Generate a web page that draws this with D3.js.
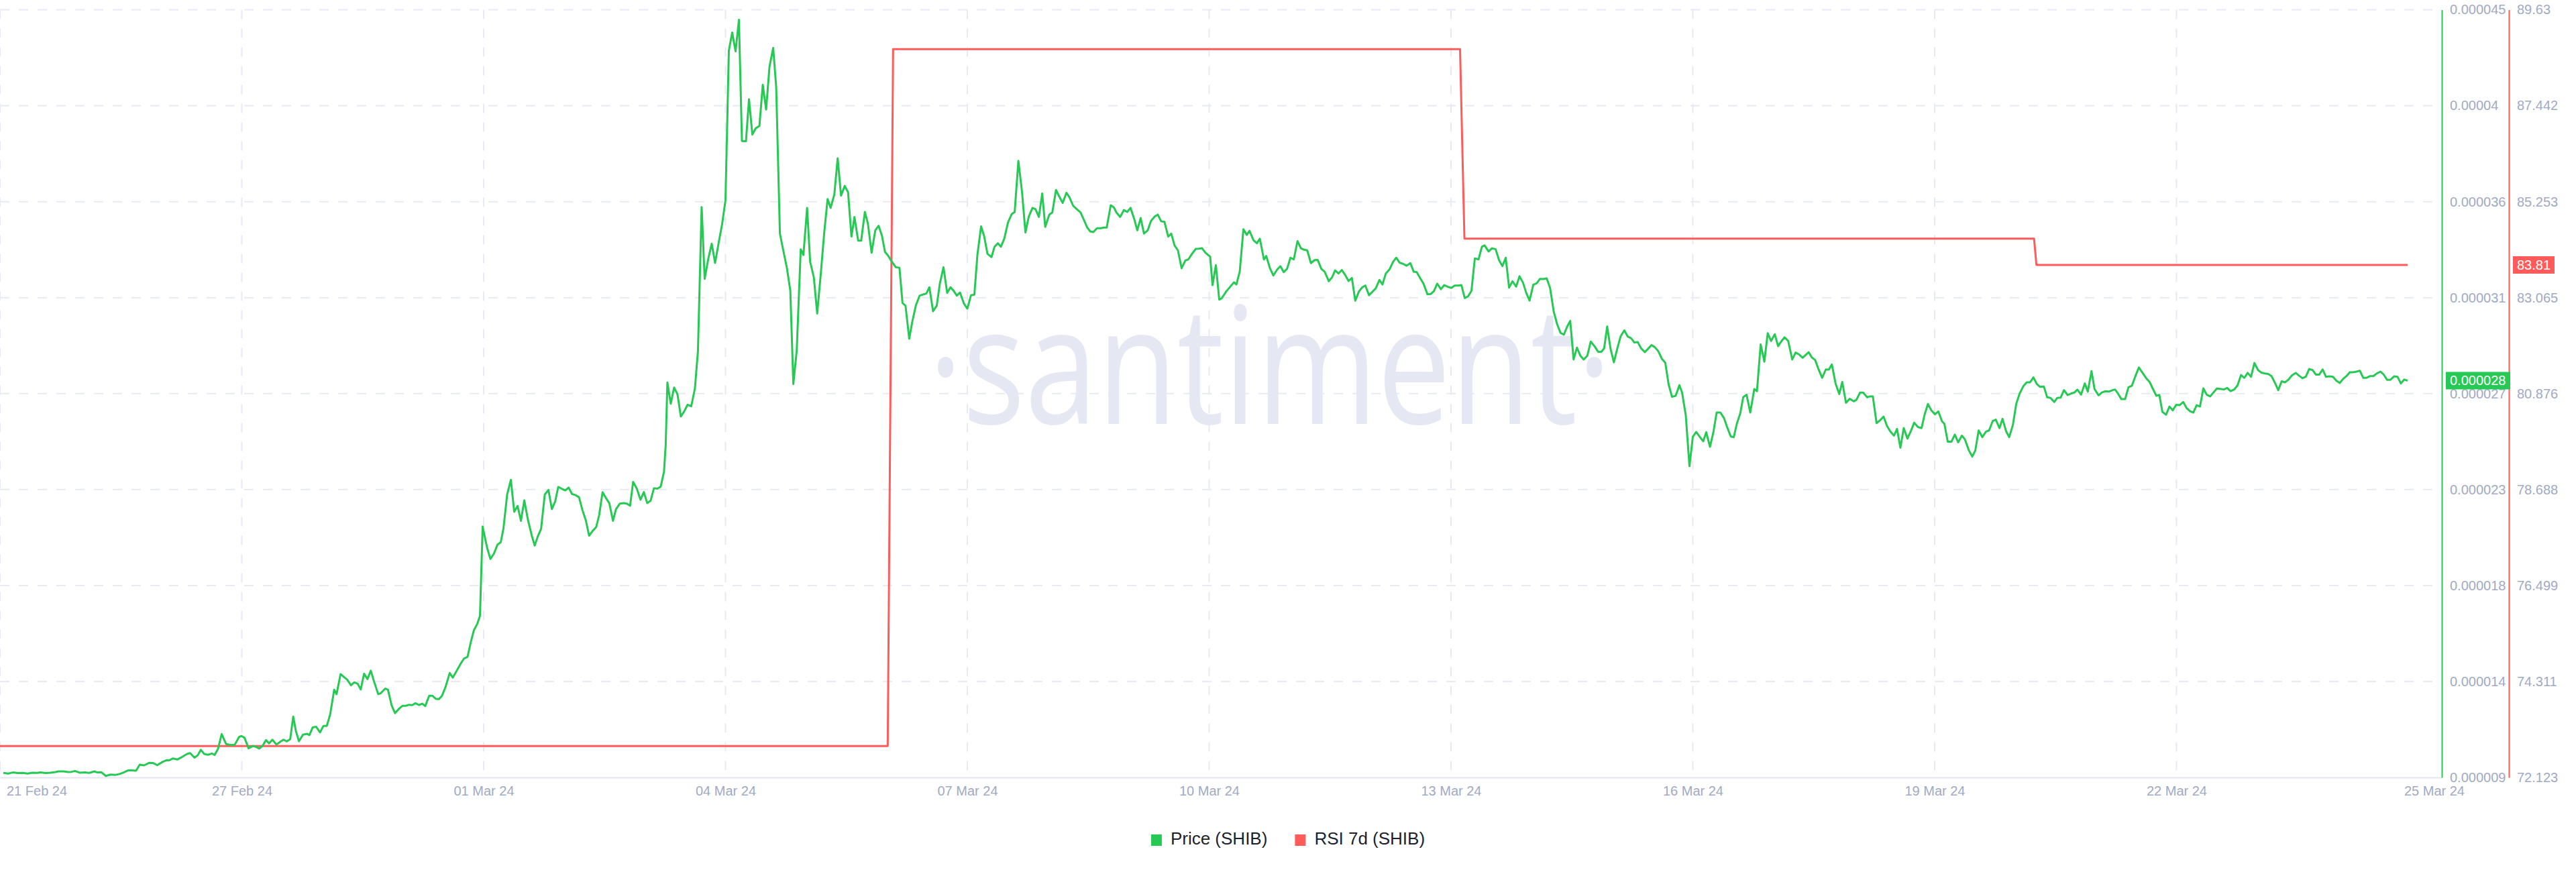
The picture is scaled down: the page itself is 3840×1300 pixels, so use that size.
<!DOCTYPE html>
<html>
<head>
<meta charset="utf-8">
<script src="https://cdn.jsdelivr.net/npm/d3@7"></script>
<style>
html,body{margin:0;padding:0;background:#ffffff;}
svg{display:block;}
</style>
</head>
<body>
<svg id="chart" width="3840" height="1300"></svg>
<script>
// ---------------- DATA ----------------
// time origin of the x axis (hours are counted from here, UTC)
const startDate = Date.UTC(2024, 1, 24, 0, 0);
const endHour = 727;

// Price (SHIB) : hours since startDate, price in millionths of USD (x 1e-6)
const priceHours = [
1.0,2.4,3.9,5.3,6.8,8.2,9.7,11.1,12.1,13.6,
15.0,16.5,17.4,18.9,20.3,21.3,22.3,23.7,25.2,26.6,
28.1,29.0,30.2,31.5,32.9,34.4,35.6,36.8,38.2,39.2,
40.5,41.6,42.9,44.5,45.5,46.8,48.4,49.6,50.3,51.5,
52.8,54.2,55.7,56.6,57.9,58.9,59.8,60.8,61.9,63.1,
63.9,64.9,66.0,67.3,68.7,69.9,71.2,71.9,72.8,74.0,
75.3,76.3,77.2,78.2,79.2,80.1,81.1,82.3,83.4,84.4,
85.4,86.4,87.3,88.1,89.0,90.2,91.5,92.1,93.1,94.1,
95.3,96.3,97.3,98.3,99.5,100.2,101.4,102.6,103.4,104.5,
105.5,106.5,107.4,108.4,109.4,110.4,111.3,112.6,113.4,114.7,
115.5,116.6,117.6,118.9,119.8,120.8,121.8,122.7,123.7,124.7,
125.7,126.6,127.8,128.7,129.7,130.7,131.6,132.6,133.9,134.8,
136.0,137.3,138.2,139.2,140.2,141.1,142.1,142.9,143.7,145.0,
146.0,147.1,148.1,149.1,
149.9,151.0,152.1,153.1,154.1,155.1,156.1,157.2,158.4,159.2,
160.1,161.1,162.2,163.3,164.3,165.3,166.2,167.2,168.3,169.3,
170.3,171.4,172.4,173.4,174.4,175.4,176.4,177.5,178.4,179.4,
180.4,181.4,182.5,183.4,184.5,185.7,186.7,187.6,188.5,189.6,
190.7,191.7,192.7,193.7,194.7,195.7,196.7,197.7,198.2,198.7,
199.7,200.7,201.7,202.7,203.7,204.7,205.8,206.9,207.8,208.9,
209.8,210.9,211.9,212.9,214.0,215.0,216.0,217.0,218.0,219.0,
220.0,220.9,222.1,223.0,224.0,225.0,226.1,227.1,228.1,229.1,
230.2,231.1,
232.2,233.2,234.3,235.3,236.2,237.2,238.4,239.2,240.3,241.2,
242.3,243.3,244.4,245.4,246.4,247.3,248.4,249.4,250.4,251.5,
252.5,253.5,254.4,255.5,256.4,257.5,258.4,259.5,260.6,261.6,
262.6,263.5,264.4,265.5,266.7,267.8,268.7,269.6,270.7,271.6,
272.7,273.8,274.7,275.8,276.7,277.8,278.9,279.8,280.9,282.0,
283.0,284.0,284.9,285.8,287.0,288.0,289.1,290.1,291.0,292.1,
293.0,294.0,295.2,296.1,297.1,298.0,299.0,300.1,301.2,302.1,
303.2,304.3,305.3,306.3,307.4,308.3,309.3,310.3,311.2,312.4,
313.3,314.4,315.4,316.4,317.5,318.4,319.5,320.6,321.7,322.6,
323.7,324.6,325.5,326.6,327.7,328.6,329.5,330.7,331.6,332.4,
333.5,334.6,335.6,336.6,337.7,338.6,339.6,340.6,341.7,342.7,
343.8,344.7,345.7,346.7,347.8,348.7,349.7,350.7,351.8,352.9,
353.8,354.9,356.0,356.9,357.9,358.9,
360.3,361.0,362.0,363.0,363.7,365.1,366.4,367.4,368.1,369.1,
370.2,371.2,372.0,373.2,374.2,375.1,376.3,377.0,378.1,379.1,
380.2,381.2,382.2,383.2,384.2,385.2,386.3,387.3,388.3,389.2,
390.3,391.4,392.3,393.4,394.4,395.6,396.6,397.5,398.5,399.5,
400.5,401.5,402.5,403.5,404.6,405.6,406.5,407.6,408.6,409.6,
410.7,411.6,412.6,413.7,414.7,415.7,416.7,417.7,418.8,419.9,
420.9,421.8,422.8,423.8,425.0,426.0,426.9,427.9,429.0,430.0,
431.1,432.1,433.1,434.2,435.1,436.1,437.1,438.1,439.1,440.2,
441.2,442.0,443.2,444.2,445.3,446.3,447.3,448.3,449.3,450.3,
451.4,452.4,453.4,454.4,455.4,456.5,457.5,458.5,459.5,460.5,
461.5,462.6,463.6,464.6,465.6,466.6,467.5,468.5,469.5,470.5,
471.5,472.6,473.6,474.8,475.8,476.8,477.6,478.5,479.5,480.5,
481.5,482.5,483.6,484.6,485.6,486.6,487.6,488.6,489.7,490.7,
491.7,492.7,493.7,494.8,495.8,496.8,497.8,498.9,
500.0,500.8,501.9,503.0,504.0,505.0,505.9,507.1,508.0,509.1,
510.1,511.1,512.2,513.3,514.2,515.3,516.2,517.1,518.1,519.0,
520.0,521.1,522.3,523.1,524.2,525.3,526.3,527.3,528.4,529.4,
530.3,531.3,532.4,533.6,534.6,535.6,536.7,537.6,538.5,539.4,
540.4,541.4,542.5,543.6,544.5,545.4,546.5,547.6,548.5,549.6,
550.7,551.9,552.7,553.8,554.7,555.9,556.7,557.6,558.7,559.6,
560.8,561.8,562.8,563.9,564.8,565.8,566.8,567.9,569.0,569.9,
571.0,572.1,573.0,574.0,575.0,576.1,577.1,578.2,578.9,579.9,
581.0,582.0,583.0,584.1,585.0,586.2,587.2,588.1,589.1,590.2,
591.3,592.2,593.3,594.2,595.3,596.2,597.3,598.2,599.3,600.3,
601.3,602.4,603.4,604.4,605.4,606.4,607.4,608.5,609.5,610.5,
611.6,612.5,613.5,614.5,615.6,616.6,617.6,618.5,619.6,620.7,
621.6,622.7,623.6,624.8,625.8,626.9,627.9,
629.0,629.7,630.5,631.6,632.7,633.7,634.7,635.7,636.8,637.9,
639.0,640.0,641.0,642.0,642.9,643.8,644.9,645.9,646.9,647.9,
648.9,650.0,651.0,652.0,653.0,654.0,655.0,656.0,657.0,658.0,
659.0,660.0,661.0,662.1,663.1,664.1,665.2,666.2,667.2,668.2,
669.2,670.2,671.2,672.3,673.3,674.3,675.3,676.3,677.3,678.3,
679.3,680.3,681.3,682.3,683.5,684.5,685.5,686.5,687.5,688.5,
689.5,690.5,691.5,692.5,693.5,694.6,695.6,696.6,697.6,698.6,
699.6,700.6,701.6,702.6,703.6,704.6,705.6,706.6,707.6,708.7,
709.7,710.7,711.7,712.8,713.8,714.8,715.8,716.8
];
const priceValues = [
9.41,9.38,9.43,9.40,9.41,9.38,9.42,9.41,9.43,9.40,
9.42,9.45,9.48,9.48,9.45,9.46,9.50,9.42,9.43,9.41,
9.48,9.43,9.44,9.27,9.33,9.32,9.36,9.43,9.53,9.53,
9.51,9.79,9.76,9.88,9.87,9.77,9.92,10.00,9.99,10.08,
10.03,10.15,10.29,10.33,10.12,10.23,10.48,10.29,10.25,10.31,
10.24,10.52,11.21,10.75,10.70,10.72,11.08,11.12,11.04,10.55,
10.66,10.61,10.54,10.67,10.93,10.78,10.95,10.72,10.85,10.95,
10.87,10.97,12.02,11.35,10.88,11.18,11.22,11.16,11.52,11.55,
11.29,11.59,11.59,12.12,13.27,13.06,13.99,13.83,13.73,13.47,
13.61,13.54,13.28,14.01,13.76,14.15,13.68,13.06,13.11,13.32,
13.27,12.54,12.18,12.40,12.52,12.52,12.57,12.55,12.64,12.56,
12.62,12.51,12.99,12.99,12.85,12.83,12.99,13.37,14.04,13.83,
14.15,14.51,14.72,14.79,15.49,16.03,16.32,16.69,20.83,19.87,
19.33,19.59,19.99,20.11,
20.75,22.32,23.00,21.52,21.79,21.10,22.05,21.13,20.37,19.95,
20.37,20.73,22.32,22.53,21.64,22.00,22.67,22.59,22.51,22.64,
22.34,22.29,22.19,21.60,21.13,20.41,20.62,20.81,21.37,22.43,
22.16,21.92,21.10,21.64,21.89,21.92,21.89,21.80,22.90,22.59,
22.08,22.43,21.92,22.03,22.61,22.59,22.68,23.38,24.62,27.51,
26.53,27.28,26.97,25.94,26.17,26.48,26.41,27.24,28.98,35.65,
32.32,33.27,33.95,33.06,34.02,34.86,35.97,42.90,43.74,42.87,
44.33,38.71,38.70,40.65,39.01,39.30,39.41,41.32,40.17,42.16,
43.03,41.20,
34.42,33.64,32.81,31.77,27.44,28.97,33.69,33.43,35.61,33.12,
32.39,30.71,32.60,34.47,36.02,35.61,36.23,37.91,36.18,36.63,
36.33,34.28,35.19,34.09,34.09,35.42,34.88,33.53,34.57,34.78,
34.31,33.56,33.40,33.12,32.86,32.83,31.20,31.07,29.54,30.32,
31.10,31.54,31.59,31.64,31.93,30.82,31.08,32.08,32.86,31.67,
31.93,31.75,31.54,31.69,31.17,30.94,31.56,31.59,33.43,34.75,
34.31,33.48,33.33,33.81,33.97,33.81,34.18,34.93,35.32,35.42,
37.79,36.33,34.47,35.21,35.61,35.55,35.19,36.28,34.73,35.30,
35.40,36.44,36.13,35.84,36.31,36.10,35.71,35.55,35.40,35.09,
34.70,34.52,34.49,34.67,34.67,34.70,34.70,35.73,35.64,35.40,
35.19,35.51,35.42,35.61,35.09,34.57,35.14,34.42,34.57,35.01,
35.21,35.30,34.99,34.96,34.28,34.42,33.87,33.64,32.81,33.17,
33.22,33.48,33.71,33.72,33.74,33.53,
33.35,32.03,32.96,31.36,31.41,31.74,31.98,32.16,32.06,32.65,
34.62,34.36,34.55,34.11,33.97,34.18,33.22,33.38,32.81,32.48,
32.74,32.91,32.63,32.79,33.30,33.22,34.07,33.74,33.67,33.64,
33.05,33.19,33.20,32.78,32.65,32.21,32.39,32.71,32.57,32.73,
32.50,32.22,32.36,31.31,31.74,31.93,32.01,31.56,31.72,31.88,
32.27,32.06,32.57,32.76,33.09,33.30,33.07,33.02,32.93,33.05,
32.65,32.63,32.36,32.10,31.60,31.62,31.75,32.10,31.84,32.03,
31.95,31.90,32.01,32.01,32.03,31.43,31.51,31.77,33.27,33.22,
33.81,33.87,33.59,33.74,33.69,33.19,32.91,33.30,31.91,32.21,
31.96,32.44,32.16,31.67,31.31,32.05,32.11,32.32,32.31,32.34,
31.90,30.79,30.22,29.82,29.73,30.11,30.37,28.58,29.13,28.76,
28.58,28.76,29.41,29.18,28.94,28.94,29.10,30.11,29.08,28.45,
29.08,29.65,29.93,29.65,29.57,29.37,29.39,29.10,28.92,29.08,
29.25,29.15,28.97,28.61,28.43,27.42,26.85,26.90,
27.39,27.05,26.00,23.63,25.00,25.22,25.03,24.79,25.21,24.53,
25.19,26.12,26.12,25.86,25.45,25.01,24.98,25.60,26.07,26.83,
26.95,26.12,27.21,27.11,29.28,28.48,29.80,29.44,29.75,29.20,
29.41,29.61,29.44,28.58,28.90,28.82,28.66,28.79,28.92,28.68,
28.56,28.14,27.73,28.12,28.11,28.35,27.47,26.98,27.54,26.57,
26.76,26.64,26.71,27.05,27.05,26.83,26.87,26.87,25.63,25.74,
25.93,25.50,25.24,25.05,25.36,24.49,25.40,24.91,25.29,25.65,
25.45,25.40,26.02,26.52,26.22,26.04,26.17,25.71,25.60,24.77,
24.77,25.10,24.74,25.05,24.88,24.36,24.08,24.36,25.29,24.98,
25.24,25.29,25.73,25.79,25.40,25.83,25.24,24.98,25.55,26.53,
27.00,27.34,27.52,27.52,27.75,27.45,27.31,27.33,26.83,26.80,
26.61,26.80,26.81,27.16,26.93,27.00,27.05,27.18,26.95,27.47,
27.09,28.04,27.21,26.92,27.05,27.11,27.09,
27.16,27.19,27.02,26.74,26.74,27.29,27.36,27.78,28.21,27.96,
27.71,27.54,27.21,26.90,26.94,26.15,26.02,26.40,26.22,26.48,
26.46,26.61,26.33,26.19,26.12,26.46,26.40,27.24,26.95,26.87,
27.05,27.23,27.22,27.19,27.26,27.11,27.19,27.39,27.86,27.73,
27.96,27.78,28.42,28.09,27.97,27.93,27.91,27.81,27.50,27.16,
27.57,27.52,27.64,27.83,27.96,27.83,27.71,27.78,28.14,28.09,
27.88,27.88,28.12,27.78,27.80,27.78,27.60,27.49,27.68,27.81,
27.99,27.99,28.02,28.06,27.73,27.73,27.81,27.81,27.93,28.02,
27.88,27.64,27.64,27.80,27.78,27.47,27.65,27.60
];

// RSI 7d (SHIB): hours since startDate and value
const rsiHours  = [0, 264.3, 265.9, 434.7, 436.0, 605.6, 606.3, 716.8];
const rsiValues = [72.84, 72.84, 88.73, 88.73, 84.41, 84.41, 83.81, 83.81];

// Axes
const priceDomain = [0.0000092, 0.0000448];
const priceTickLabels = ["0.000009","0.000014","0.000018","0.000023","0.000027","0.000031","0.000036","0.00004","0.000045"];
const rsiDomain = [72.123, 89.63];
const rsiTickLabels = ["72.123","74.311","76.499","78.688","80.876","83.065","85.253","87.442","89.63"];
const xTickDates = ["2024-02-24","2024-02-27","2024-03-01","2024-03-04","2024-03-07","2024-03-10","2024-03-13","2024-03-16","2024-03-19","2024-03-22"];
const xTickLabels = ["","27 Feb 24","01 Mar 24","04 Mar 24","07 Mar 24","10 Mar 24","13 Mar 24","16 Mar 24","19 Mar 24","22 Mar 24"];
const xEdgeLabels = ["21 Feb 24","25 Mar 24"];

const seriesNames = ["Price (SHIB)", "RSI 7d (SHIB)"];
const seriesColors = ["#26c953", "#ff5b5b"];
const watermarkText = "\u00b7santiment\u00b7";

// ---------------- LAYOUT ----------------
const W = 3840, H = 1300;
const plotL = 0, plotR = 3640, plotT = 14.5, plotB = 1159;
const rsiAxisX = 3740;
const FONT = "'Liberation Sans', Arial, Helvetica, sans-serif";
const AXIS_COLOR = "#9faac4";
const GRID_COLOR = "#e7eaf3";

const svg = d3.select("#chart");
const hourToDate = h => new Date(startDate + h * 3600000);

const x = d3.scaleUtc().domain([hourToDate(0), hourToDate(endHour)]).range([plotL, plotR]);
const yP = d3.scaleLinear().domain(priceDomain).range([plotB, plotT]);
const yR = d3.scaleLinear().domain(rsiDomain).range([plotB, plotT]);

const priceTicks = d3.range(priceTickLabels.length).map(i => priceDomain[0] + i * (priceDomain[1] - priceDomain[0]) / (priceTickLabels.length - 1));
const rsiTicks = d3.range(rsiTickLabels.length).map(i => rsiDomain[0] + i * (rsiDomain[1] - rsiDomain[0]) / (rsiTickLabels.length - 1));
const xTicks = xTickDates.map(s => new Date(s + "T00:00:00Z"));

svg.append("rect").attr("width", W).attr("height", H).attr("fill", "#fff");

// ---- grid ----
const grid = svg.append("g");
grid.selectAll("line.h").data(priceTicks.slice(1)).join("line")
  .attr("x1", plotL).attr("x2", plotR)
  .attr("y1", d => yP(d)).attr("y2", d => yP(d))
  .attr("stroke", GRID_COLOR).attr("stroke-width", 2).attr("stroke-dasharray", "14,14");
grid.selectAll("line.v").data(xTicks).join("line")
  .attr("x1", d => x(d)).attr("x2", d => x(d))
  .attr("y1", plotT).attr("y2", plotB)
  .attr("stroke", GRID_COLOR).attr("stroke-width", 2).attr("stroke-dasharray", "14,14");

// ---- watermark ----
svg.append("text")
  .attr("transform", "translate(1893,632) scale(0.8,1)")
  .attr("text-anchor", "middle")
  .attr("font-family", "'Open Sans', sans-serif")
  .attr("font-size", 243)
  .attr("fill", "#e5e8f2")
  .text(watermarkText);

// ---- x axis ----
const xAxis = svg.append("g").attr("transform", `translate(0,${plotB})`)
  .call(d3.axisBottom(x).tickValues(xTicks).tickFormat((d, i) => xTickLabels[i]).tickSize(0).tickSizeOuter(0));
xAxis.select(".domain").attr("stroke", "#e3e6f0").attr("stroke-width", 2);
xAxis.selectAll("text").attr("font-family", FONT).attr("font-size", 20).attr("fill", AXIS_COLOR).attr("y", 27).attr("dy", 0);
svg.append("text").attr("x", 10).attr("y", plotB + 27).attr("font-family", FONT).attr("font-size", 20).attr("fill", AXIS_COLOR).text(xEdgeLabels[0]);
svg.append("text").attr("x", plotR + 34).attr("y", plotB + 27).attr("text-anchor", "end").attr("font-family", FONT).attr("font-size", 20).attr("fill", AXIS_COLOR).text(xEdgeLabels[1]);

// ---- right axes ----
const pAxis = svg.append("g").attr("transform", `translate(${plotR},0)`)
  .call(d3.axisRight(yP).tickValues(priceTicks).tickFormat((d, i) => priceTickLabels[i]).tickSize(0).tickSizeOuter(0).tickPadding(12));
pAxis.select(".domain").attr("stroke", seriesColors[0]).attr("stroke-width", 2);
pAxis.selectAll("text").attr("font-family", FONT).attr("font-size", 20).attr("fill", AXIS_COLOR);

const rAxis = svg.append("g").attr("transform", `translate(${rsiAxisX},0)`)
  .call(d3.axisRight(yR).tickValues(rsiTicks).tickFormat((d, i) => rsiTickLabels[i]).tickSize(0).tickSizeOuter(0).tickPadding(12));
rAxis.select(".domain").attr("stroke", seriesColors[1]).attr("stroke-width", 2);
rAxis.selectAll("text").attr("font-family", FONT).attr("font-size", 20).attr("fill", AXIS_COLOR);

// ---- lines ----
const priceData = priceHours.map((h, i) => ({ t: hourToDate(h), v: priceValues[i] * 1e-6 }));
const rsiData = rsiHours.map((h, i) => ({ t: hourToDate(h), v: rsiValues[i] }));

svg.append("path").datum(rsiData)
  .attr("fill", "none").attr("stroke", seriesColors[1]).attr("stroke-width", 3).attr("stroke-linejoin", "round")
  .attr("d", d3.line().x(d => x(d.t)).y(d => yR(d.v)));
svg.append("path").datum(priceData)
  .attr("fill", "none").attr("stroke", seriesColors[0]).attr("stroke-width", 3).attr("stroke-linejoin", "round")
  .attr("d", d3.line().x(d => x(d.t)).y(d => yP(d.v)));

// ---- last value badges ----
const lastP = priceData[priceData.length - 1];
const lastR = rsiData[rsiData.length - 1];
const pb = svg.append("g").attr("transform", `translate(${plotR + 6},${yP(lastP.v)})`);
pb.append("rect").attr("x", 0).attr("y", -13).attr("width", 96).attr("height", 26).attr("fill", seriesColors[0]);
pb.append("text").attr("x", 6).attr("y", 0).attr("dy", "0.35em").attr("font-family", FONT).attr("font-size", 20).attr("fill", "#fff")
  .text(d3.format(".6f")(lastP.v));
const rb = svg.append("g").attr("transform", `translate(${rsiAxisX + 6},${yR(lastR.v)})`);
rb.append("rect").attr("x", 0).attr("y", -13).attr("width", 62).attr("height", 26).attr("fill", seriesColors[1]);
rb.append("text").attr("x", 6).attr("y", 0).attr("dy", "0.35em").attr("font-family", FONT).attr("font-size", 20).attr("fill", "#fff")
  .text(d3.format(".2f")(lastR.v));

// ---- legend ----
const legend = svg.append("g");
const items = legend.selectAll("g").data(seriesNames).join("g");
items.append("rect").attr("width", 16).attr("height", 17).attr("y", -15).attr("fill", (d, i) => seriesColors[i]);
items.append("text").attr("x", 29).attr("y", 0).attr("font-family", FONT).attr("font-size", 26).attr("fill", "#1c1f2e").text(d => d);
let cx = 0;
items.each(function () {
  const g = d3.select(this);
  g.attr("transform", `translate(${cx},0)`);
  cx += 29 + g.select("text").node().getComputedTextLength() + 41;
});
const legendW = cx - 41;
legend.attr("transform", `translate(${W / 2 - legendW / 2},1259)`);
</script>
</body>
</html>
